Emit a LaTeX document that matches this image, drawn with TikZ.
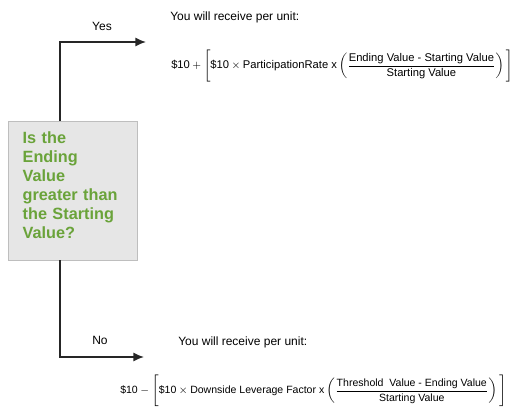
\documentclass[tikz,border=0pt]{standalone}
\usepackage{amsmath}
\usepackage{fontspec}
\setmainfont{Liberation Sans}
\usetikzlibrary{positioning}
\usetikzlibrary{arrows.meta}
\definecolor{askgreen}{RGB}{106,163,58}
\definecolor{boxgray}{RGB}{230,230,230}
\definecolor{boxline}{RGB}{190,190,190}

\tikzset{
	flow/.style={-{Latex[length=8pt,width=7pt]},line width=1.3pt,black!85},
	payoff/.style={inner sep=0pt,font=\fontsize{8.4}{10}\selectfont},
	lead/.style={inner sep=0pt,font=\fontsize{9}{11}\selectfont,anchor=west}
}

\newcommand{\tx}[1]{\text{#1}}

\begin{document}
\begin{tikzpicture}[x=0.75pt,y=-0.75pt]
	\useasboundingbox (0,0) rectangle (521,411);
	
	% the question
	\node[draw=boxline,fill=boxgray,minimum width=96.75pt,minimum height=104.25pt] (ask) at (72.5,190.5) {};
	\node[anchor=north west,inner sep=0pt,text width=80pt,align=left,text=askgreen,
		font=\fontsize{12.2}{14.3}\selectfont\bfseries,xshift=11pt,yshift=-8pt] (asktxt) at (ask.north west)
		{Is the\\Ending\\Value\\greater than\\the Starting\\Value?};
	
	\coordinate (turnyes) at (60,42);
	\coordinate (yesend) at (146,42);
	\coordinate (turnno) at (60,357);
	\coordinate (noend) at (144,357);
	
	\draw[flow] (turnyes |- ask.north) -- (turnyes) -- (yesend);
	\draw[flow] (turnno |- ask.south) -- (turnno) -- (noend);
	
	\node[lead,anchor=center] (yes) at (102,26) {Yes};
	\node[lead,anchor=center] (no) at (100,340) {No};
	
	% upper branch
	\node[lead] (yestxt) at (170,17) {You will receive per unit:};
	\node[payoff,anchor=west] (yesformula) at (171,66)
		{$\tx{\$10} + \Bigg[\tx{\$10}\times\tx{ParticipationRate x}
		\left(\dfrac{\tx{Ending Value - Starting Value}}{\tx{Starting Value}}\right)\Bigg]$};
	
	% lower branch
	\node[lead] (notxt) at (178,342) {You will receive per unit:};
	\node[payoff,anchor=west,font=\fontsize{7.9}{9.5}\selectfont] (noformula) at (120,391)
		{$\tx{\$10} - \Bigg[\tx{\$10}\times\tx{Downside Leverage Factor x}
		\left(\dfrac{\tx{Threshold\ \ Value - Ending Value}}{\tx{Starting Value}}\right)\Bigg]$};
\end{tikzpicture}
\end{document}
